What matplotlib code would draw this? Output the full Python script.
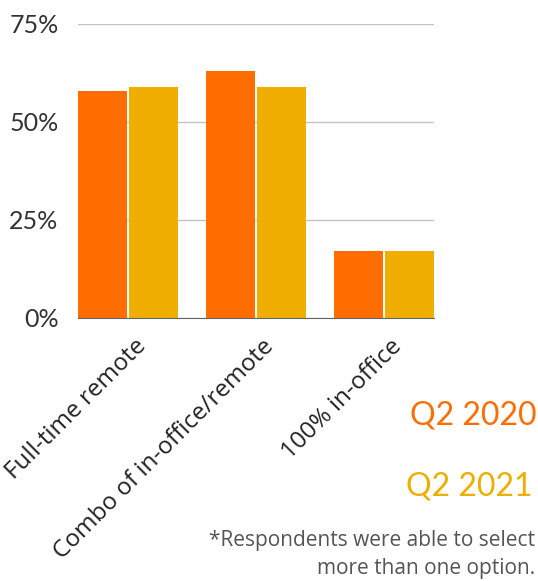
import matplotlib
matplotlib.use("Agg")
from matplotlib import pyplot as plt
import matplotlib.transforms as mtransforms
import numpy as np

plt.rcParams['font.family'] = ['Lato', 'DejaVu Sans']

categories = ['Full-time remote', 'Combo of in-office/remote', '100% in-office']
q2_2020 = [58, 63, 17]
q2_2021 = [59, 59, 17]
yticks = [0, 25, 50, 75]
ytick_labels = ['0%', '25%', '50%', '75%']

orange = '#FF6D00'
gold = '#EFAE00'

fig = plt.figure(figsize=(5.38, 5.81), dpi=100)
ax = fig.add_axes([0.145, 0.4527, 0.6617, 0.506])

x = np.arange(len(categories))
w = 0.385
ax.bar(x - 0.2, q2_2020, w, color=orange, zorder=3)
ax.bar(x + 0.2, q2_2021, w, color=gold, zorder=3)

ax.set_xlim(-0.39, 2.39)
ax.set_ylim(0, 75)
ax.set_yticks(yticks)
ax.set_yticklabels(ytick_labels, fontsize=18, color='#333333')
ax.yaxis.grid(True, color='#c4c4c4', lw=1, zorder=0)
for s in ['top', 'right', 'left']:
    ax.spines[s].set_visible(False)
ax.spines['bottom'].set_color('#666666')
ax.spines['bottom'].set_zorder(4)
ax.tick_params(axis='y', length=0, pad=14)
ax.tick_params(axis='x', length=0, pad=12)

ax.set_xticks(x)
ax.set_xticklabels(categories, fontsize=17.5, color='#222222', rotation=45,
                   ha='right', va='top', rotation_mode='anchor',
                   family=['Open Sans', 'DejaVu Sans'])
offset = mtransforms.ScaledTranslation(6 / 100, 0, fig.dpi_scale_trans)
for lbl in ax.get_xticklabels():
    lbl.set_transform(lbl.get_transform() + offset)

fig.text(0.998, 0.285, 'Q2 2020', color=orange, fontsize=23, ha='right', va='center')
fig.text(0.99, 0.163, 'Q2 2021', color=gold, fontsize=23, ha='right', va='center')
fig.text(0.995, 0.070, '*Respondents were able to select', color='#555555',
         fontsize=15, ha='right', va='center', family=['Open Sans', 'DejaVu Sans'])
fig.text(0.995, 0.022, 'more than one option.', color='#555555',
         fontsize=15, ha='right', va='center', family=['Open Sans', 'DejaVu Sans'])

plt.savefig('out.png', dpi=100)
